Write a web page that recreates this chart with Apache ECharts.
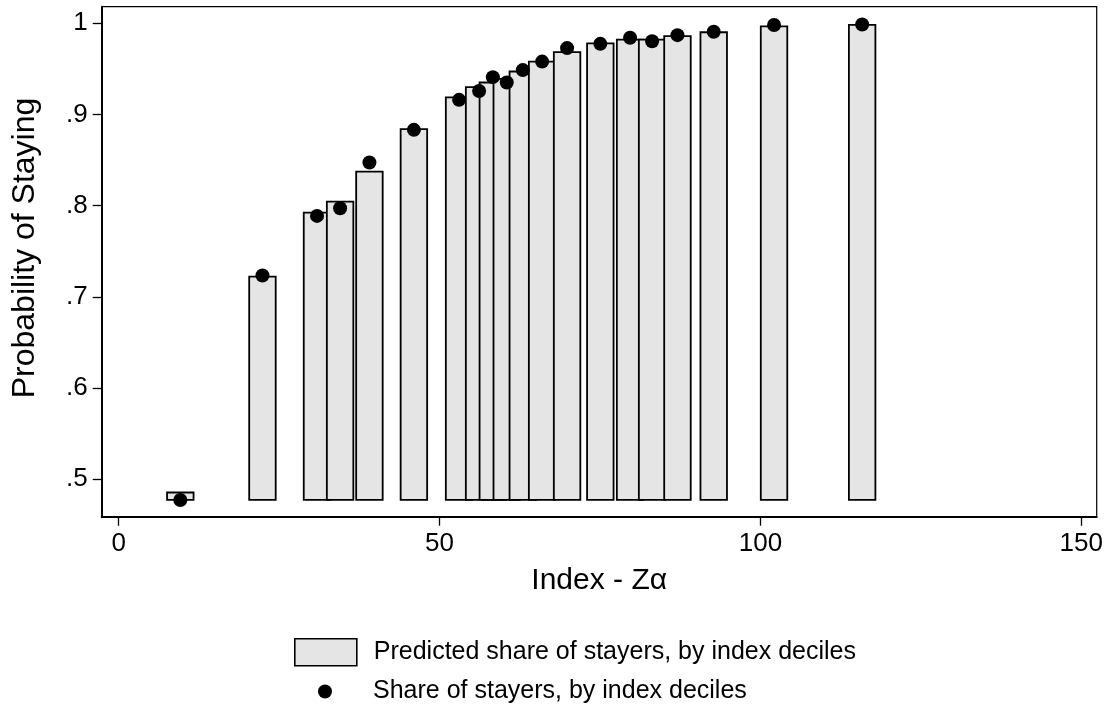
<!DOCTYPE html>
<html>
<head>
<meta charset="utf-8">
<script src="https://cdn.jsdelivr.net/npm/echarts@6/dist/echarts.min.js"></script>
<style>
html,body{margin:0;padding:0;background:#fff;}
#chart{width:1108px;height:706px;}
</style>
</head>
<body>
<div id="chart"></div>
<script>
// ---- data ----
const indexX = [9.6, 22.4, 30.9, 34.5, 39.07, 46.0, 53.04, 56.16, 58.3, 60.47, 62.97, 65.98, 69.87, 75.05, 79.69, 83.12, 87.07, 92.72, 102.12, 115.85];
const predictedShare = [0.4855, 0.7222, 0.7923, 0.8044, 0.8373, 0.8838, 0.9186, 0.9298, 0.9349, 0.939, 0.947, 0.9578, 0.9682, 0.9777, 0.982, 0.982, 0.9857, 0.990, 0.9965, 0.998];
const observedShare = [0.4773, 0.7233, 0.7887, 0.7971, 0.8472, 0.883, 0.9159, 0.9256, 0.9408, 0.9349, 0.9485, 0.9578, 0.9726, 0.9773, 0.9839, 0.9802, 0.9868, 0.9905, 0.998, 0.9985];
const barBase = 0.4775;
const barWidthUnits = 4.13;
const xTicks = [0, 50, 100, 150];
const yTicks = [0.5, 0.6, 0.7, 0.8, 0.9, 1];
const yTickLabels = ['.5', '.6', '.7', '.8', '.9', '1'];
const seriesNames = ['Predicted share of stayers, by index deciles', 'Share of stayers, by index deciles'];
const xTitle = 'Index - Zα';
const yTitle = 'Probability of Staying';

const FONT = '"Liberation Sans", Arial, Helvetica, sans-serif';

const chart = echarts.init(document.getElementById('chart'), null, {renderer: 'canvas'});

const barData = indexX.map((x, i) => [x, predictedShare[i]]);
const dotData = indexX.map((x, i) => [x, observedShare[i]]);

const option = {
  backgroundColor: '#ffffff',
  animation: false,
  grid: {
    left: 101.7, top: 6.7, right: 11.3, bottom: 189.3,
    containLabel: false,
    outerBoundsMode: 'none',
    show: true, borderColor: '#000', borderWidth: 1.2, backgroundColor: 'transparent'
  },
  xAxis: {
    type: 'value',
    min: -2.65, max: 152.4,
    splitLine: {show: false},
    axisLine: {show: true, onZero: false, lineStyle: {color: '#000', width: 2}},
    axisTick: {show: true, inside: false, length: 9, customValues: xTicks, lineStyle: {color: '#000', width: 1.3}},
    axisLabel: {show: true, margin: 14, customValues: xTicks, color: '#000', fontSize: 26, fontFamily: FONT,
      formatter: v => String(v)},
    name: xTitle,
    nameLocation: 'middle',
    nameGap: 49,
    nameTextStyle: {color: '#000', fontSize: 30, fontFamily: FONT}
  },
  yAxis: {
    type: 'value',
    min: 0.459, max: 1.018,
    splitLine: {show: false},
    axisLine: {show: true, onZero: false, lineStyle: {color: '#000', width: 2}},
    axisTick: {show: true, inside: false, length: 9, customValues: yTicks, lineStyle: {color: '#000', width: 1.3}},
    axisLabel: {show: true, margin: 14, customValues: yTicks, color: '#000', fontSize: 26, fontFamily: FONT,
      formatter: v => {
        const i = yTicks.findIndex(t => Math.abs(t - v) < 1e-6);
        return i >= 0 ? yTickLabels[i] : '';
      }}
  },
  graphic: [{
    type: 'text',
    x: 25, y: 248,
    rotation: Math.PI / 2,
    style: {text: yTitle, fill: '#000', font: '32px ' + FONT, align: 'center', verticalAlign: 'middle'}
  }],
  legend: [{
    left: 294, top: 638,
    padding: 0,
    orient: 'vertical',
    itemWidth: 62, itemHeight: 27,
    selectedMode: false,
    textStyle: {color: '#000', fontSize: 25, fontFamily: FONT, padding: [0, 0, 0, 12]},
    data: [{name: seriesNames[0], icon: 'rect', itemStyle: {color: '#e5e5e5', borderColor: '#000', borderWidth: 1.6}}]
  }, {
    left: 318, top: 679,
    padding: 0,
    orient: 'vertical',
    itemWidth: 14, itemHeight: 14,
    selectedMode: false,
    textStyle: {color: '#000', fontSize: 25, fontFamily: FONT, padding: [0, 0, 0, 36]},
    data: [{name: seriesNames[1], icon: 'circle', itemStyle: {color: '#000', opacity: 1}}]
  }],
  series: [{
    name: seriesNames[0],
    type: 'custom',
    data: barData,
    encode: {x: 0, y: 1},
    itemStyle: {color: '#e5e5e5', borderColor: '#000', borderWidth: 1.8},
    renderItem: function (params, api) {
      const x = api.value(0), top = api.value(1);
      const p1 = api.coord([x - barWidthUnits / 2, top]);
      const p2 = api.coord([x + barWidthUnits / 2, barBase]);
      return {
        type: 'rect',
        shape: {x: p1[0], y: p1[1], width: p2[0] - p1[0], height: p2[1] - p1[1]},
        style: {fill: '#e5e5e5', stroke: '#000', lineWidth: 1.8}
      };
    },
    z: 2
  }, {
    name: seriesNames[1],
    type: 'scatter',
    data: dotData,
    symbol: 'circle',
    symbolSize: 14,
    itemStyle: {color: '#000', opacity: 1},
    z: 3
  }]
};
chart.setOption(option);
</script>
</body>
</html>
